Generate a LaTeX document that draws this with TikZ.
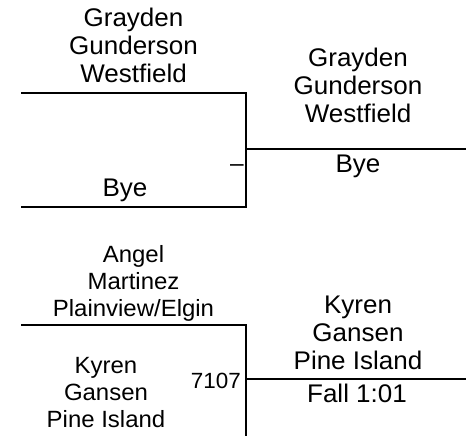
\documentclass[tikz,border=0pt]{standalone}
\usepackage{fontspec}
\setmainfont[FakeStretch=1.02]{Liberation Sans}
\usepackage{tikz}
\usetikzlibrary{positioning,calc}
\tikzset{
brkline/.style={draw=black,line width=2pt},
brkname/.style={inner sep=0pt,align=center,text depth=0pt,anchor=south,
  font=\fontsize{25.5}{28}\selectfont},
brksmall/.style={brkname,font=\fontsize{23.5}{27}\selectfont},
brkscore/.style={inner sep=0pt,anchor=base,font=\fontsize{22}{24}\selectfont}
}

\begin{document}
\begin{tikzpicture}[x=1pt,y=-1pt]
\useasboundingbox (0,0) rectangle (466,436);
% first bout
\coordinate (a1) at (21,93);
\coordinate (a2) at (246,93);
\coordinate (b1) at (21,207);
\coordinate (b2) at (246,207);
\coordinate (aw) at (246,149);
\coordinate (ae) at (466,149);
% second bout
\coordinate (c1) at (21,325);
\coordinate (c2) at (246,325);
\coordinate (c3) at (246,436);
\coordinate (cw) at (246,379);
\coordinate (ce) at (466,379);
\draw[brkline] (a1) -- (a2) -- (b2) -- (b1);
\draw[brkline] (aw) -- (ae);
\draw[brkline] (c1) -- (c2) -- (c3);
\draw[brkline] (cw) -- (ce);
\node[brkname] (w1) at (133.5,83) {Grayden\\Gunderson\\Westfield};
\node[brkname] (w2) at (125,197) {Bye};
\node[brkname] (w3) at (358,123) {Grayden\\Gunderson\\Westfield};
\node[brkname] (w4) at (358,173) {Bye};
\node[brkscore,font=\fontsize{24}{28}\selectfont] (w5) at (237,171) {–};
\node[brksmall] (k1) at (133.5,317) {Angel\\Martinez\\Plainview/Elgin};
\node[brksmall] (k2) at (106,428) {Kyren\\Gansen\\Pine Island};
\node[brkscore,anchor=base east] (k3) at (241,388) {7107};
\node[brkname] (k4) at (358,370) {Kyren\\Gansen\\Pine Island};
\node[brkname] (k5) at (357,403) {Fall 1:01};
\end{tikzpicture}
\end{document}
